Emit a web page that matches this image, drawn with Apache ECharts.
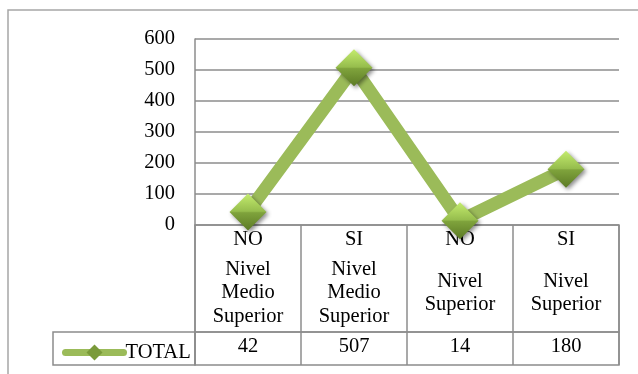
<!DOCTYPE html>
<html>
<head>
<meta charset="utf-8">
<script src="https://cdn.jsdelivr.net/npm/echarts@6/dist/echarts.min.js"></script>
<style>
  html, body { margin: 0; padding: 0; background: #fff; }
  #chart { width: 638px; height: 374px; }
</style>
</head>
<body>
<div id="chart"></div>
<script>
const answers = ['NO', 'SI', 'NO', 'SI']
const levels = ['Nivel\nMedio\nSuperior', 'Nivel\nMedio\nSuperior', 'Nivel\nSuperior', 'Nivel\nSuperior']
const totals = [42, 507, 14, 180]
const yTicks = [0, 100, 200, 300, 400, 500, 600]

const FONT = "'Liberation Serif', 'Times New Roman', 'DejaVu Serif', serif"
const GRAY = '#8c8c8c'
const GREEN = '#9bbb59'

// layout of the plot and the data table under it
const L = 195, W = 424
const plotTop = 39, plotH = 186
const headTop = plotTop + plotH, headH = 107
const valTop = headTop + headH, valH = 33

const chart = echarts.init(document.getElementById('chart'))

const textStyle = { fontFamily: FONT, fontSize: 20.5, color: '#000' }

const option = {
  backgroundColor: '#fff',
  animation: false,
  grid: [
    { left: L, top: plotTop, width: W, height: plotH },
    { left: L, top: headTop, width: W, height: headH, show: true, borderColor: GRAY, borderWidth: 1.5 },
    { left: L, top: valTop, width: W, height: valH, show: true, borderColor: GRAY, borderWidth: 1.5 }
  ],
  xAxis: [
    {
      gridIndex: 0,
      type: 'category',
      data: answers,
      boundaryGap: true,
      axisLine: { show: false },
      axisTick: { show: false },
      axisLabel: { ...textStyle, interval: 0, margin: 15, verticalAlign: 'middle' }
    },
    {
      gridIndex: 1,
      type: 'category',
      data: levels,
      boundaryGap: true,
      axisLine: { show: false },
      axisTick: { show: false },
      splitLine: { show: true, interval: 0, lineStyle: { color: GRAY, width: 1.5 } },
      axisLabel: { ...textStyle, interval: 0, inside: true, margin: 39, verticalAlign: 'middle', lineHeight: 23.5 }
    },
    {
      gridIndex: 2,
      type: 'category',
      data: answers.map((a, i) => i),
      boundaryGap: true,
      axisLine: { show: false },
      axisTick: { show: false },
      splitLine: { show: true, interval: 0, lineStyle: { color: GRAY, width: 1.5 } },
      axisLabel: {
        ...textStyle, interval: 0, inside: true, margin: 18, verticalAlign: 'middle',
        formatter: (v, i) => String(totals[i])
      }
    }
  ],
  yAxis: [
    {
      gridIndex: 0,
      type: 'value',
      min: yTicks[0],
      max: yTicks[yTicks.length - 1],
      interval: yTicks[1] - yTicks[0],
      axisLine: { show: true, lineStyle: { color: GRAY, width: 1.5 } },
      axisTick: { show: false },
      splitLine: { lineStyle: { color: GRAY, width: 1.5 } },
      axisLabel: { ...textStyle, margin: 20 }
    },
    { gridIndex: 1, type: 'value', show: false },
    { gridIndex: 2, type: 'value', show: false }
  ],
  legend: {
    left: 57,
    top: 337,
    itemWidth: 58,
    itemHeight: 20,
    itemGap: 0,
    textStyle: { ...textStyle, padding: [0, 0, 0, -3] },
    lineStyle: { width: 7, color: GREEN, cap: 'round' },
    itemStyle: { color: '#7a9a3a' },
    data: ['TOTAL']
  },
  graphic: [
    // outer chart frame
    { type: 'rect', silent: true, shape: { x: 8, y: 10, width: 700, height: 400 },
      style: { fill: 'none', stroke: '#a6a6a6', lineWidth: 1.5 } },
    // legend cell of the data table
    { type: 'rect', silent: true, shape: { x: 53, y: valTop, width: L - 53, height: valH },
      style: { fill: 'none', stroke: GRAY, lineWidth: 1.5 } }
  ],
  series: [
    {
      name: 'TOTAL',
      type: 'line',
      xAxisIndex: 0,
      yAxisIndex: 0,
      data: totals,
      clip: false,
      z: 5,
      lineStyle: { color: GREEN, width: 13 },
      symbol: 'diamond',
      symbolSize: 37,
      itemStyle: {
        color: new echarts.graphic.LinearGradient(0, 0, 0, 1, [
          { offset: 0, color: '#c4ec6e' },
          { offset: 0.48, color: '#96bd4d' },
          { offset: 0.52, color: '#7fa33c' },
          { offset: 1, color: '#5c7a25' }
        ]),
        shadowBlur: 4,
        shadowOffsetX: 2,
        shadowOffsetY: 2,
        shadowColor: 'rgba(0,0,0,0.45)'
      }
    }
  ]
}

chart.setOption(option)
</script>
</body>
</html>
